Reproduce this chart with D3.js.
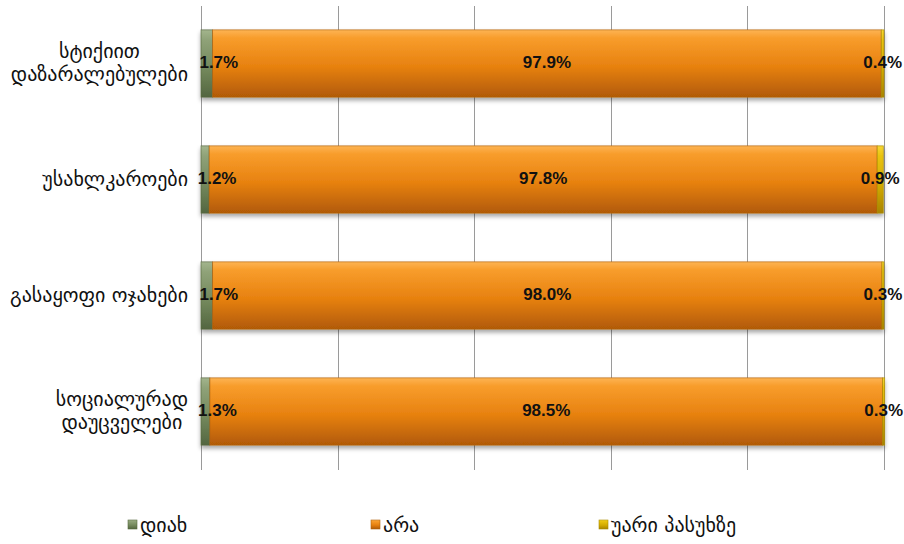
<!DOCTYPE html>
<html>
<head>
<meta charset="utf-8">
<script src="https://cdn.jsdelivr.net/npm/d3@7"></script>
<style>
  html, body { margin: 0; padding: 0; background: #fff; }
  svg { display: block; }
</style>
</head>
<body>
<svg id="chart" width="904" height="544"></svg>
<script>
// ---- data ----
const categories = [
  ["სტიქიით", "დაზარალებულები"],
  ["უსახლკაროები"],
  ["გასაყოფი ოჯახები"],
  ["სოციალურად", "დაუცველები"]
];
const seriesNames = ["დიახ", "არა", "უარი პასუხზე"];
const yesValues = [1.7, 1.2, 1.7, 1.3];
const noValues = [97.9, 97.8, 98.0, 98.5];
const refusedValues = [0.4, 0.9, 0.3, 0.3];
const xTicks = [0, 20, 40, 60, 80, 100];

(function () {
// ---- layout ----
const svg = d3.select("#chart");
const mLeft = 201, mRight = 884, mTop = 5.5, mBottom = 469.5;
const catKeys = categories.map((c, i) => "c" + i);
const rows = catKeys.map((k, i) => ({
  key: k, label: categories[i],
  v0: yesValues[i], v1: noValues[i], v2: refusedValues[i]
}));

const x = d3.scaleLinear().domain([0, 100]).range([mLeft, mRight]);
const y = d3.scaleBand().domain(catKeys).range([mTop, mBottom]).paddingInner(0.42).paddingOuter(0.21);

const stacked = d3.stack().keys(["v0", "v1", "v2"])(rows);

const font = "'DejaVu Sans', 'Noto Sans', sans-serif";
const gradients = [
  { id: "gYes", stops: [["0%", "#a3b58d"], ["15%", "#8fa278"], ["60%", "#72875b"], ["100%", "#536640"]], stroke: "#56693f" },
  { id: "gNo", stops: [["0%", "#fdb454"], ["12%", "#f89d2c"], ["55%", "#e7810f"], ["100%", "#b15a06"]], stroke: "#b0610c" },
  { id: "gRef", stops: [["0%", "#f7d733"], ["15%", "#e9c30f"], ["60%", "#d1a900"], ["100%", "#a88400"]], stroke: "#a88a00" }
];

const defs = svg.append("defs");
gradients.forEach(g => {
  const lg = defs.append("linearGradient").attr("id", g.id)
    .attr("x1", 0).attr("y1", 0).attr("x2", 0).attr("y2", 1);
  g.stops.forEach(s => lg.append("stop").attr("offset", s[0]).attr("stop-color", s[1]));
});
const f = defs.append("filter").attr("id", "shadow")
  .attr("x", "-5%").attr("y", "-20%").attr("width", "110%").attr("height", "150%");
f.append("feDropShadow").attr("dx", 0).attr("dy", 3).attr("stdDeviation", 2.2)
  .attr("flood-color", "#000").attr("flood-opacity", 0.35);

// gridlines
svg.append("g").selectAll("line").data(xTicks).join("line")
  .attr("x1", d => Math.round(x(d)) + 0.5).attr("x2", d => Math.round(x(d)) + 0.5)
  .attr("y1", 6).attr("y2", 470)
  .attr("stroke", "#9a9a9a").attr("stroke-width", 1);

// bars
const barG = svg.append("g").attr("filter", "url(#shadow)");
stacked.forEach((s, si) => {
  barG.append("g").selectAll("rect").data(s).join("rect")
    .attr("x", d => x(d[0]))
    .attr("y", d => y(d.data.key))
    .attr("width", d => Math.max(0, x(d[1]) - x(d[0])))
    .attr("height", y.bandwidth())
    .attr("fill", `url(#${gradients[si].id})`)
    .attr("stroke", gradients[si].stroke)
    .attr("stroke-width", 0.8)
    .attr("stroke-opacity", 0.8);
});

// data labels
const labelDx = [12, 0, 0];
stacked.forEach((s, si) => {
  svg.append("g").selectAll("text").data(s).join("text")
    .attr("x", d => (x(d[0]) + x(d[1])) / 2 + labelDx[si])
    .attr("y", d => y(d.data.key) + y.bandwidth() / 2 - 2)
    .attr("dy", "0.36em")
    .attr("text-anchor", "middle")
    .attr("font-family", "'Liberation Sans', Arial, sans-serif")
    .attr("font-size", 17)
    .attr("font-weight", "bold")
    .attr("fill", "#111")
    .text(d => (d[1] - d[0]).toFixed(1) + "%");
});

// category labels (block right-aligned, lines centered within block)
const catG = svg.append("g");
rows.forEach(r => {
  const cy = y(r.key) + y.bandwidth() / 2;
  const n = r.label.length;
  const lh = 23;
  const g = catG.append("g");
  const texts = r.label.map((line, li) => g.append("text")
    .attr("y", cy + (li - (n - 1) / 2) * lh - 1)
    .attr("dy", "0.35em")
    .attr("text-anchor", "middle")
    .attr("font-family", font)
    .attr("font-size", 20)
    .attr("fill", "#111")
    .text(line));
  const maxW = d3.max(texts, t => t.node().getComputedTextLength());
  texts.forEach(t => t.attr("x", 188 - maxW / 2));
});

// legend
const legendX = [128, 371, 599];
const lg = svg.append("g");
seriesNames.forEach((name, i) => {
  lg.append("rect").attr("x", legendX[i]).attr("y", 520).attr("width", 9).attr("height", 9)
    .attr("fill", `url(#${gradients[i].id})`).attr("stroke", gradients[i].stroke).attr("stroke-width", 0.6);
  lg.append("text").attr("x", legendX[i] + 12).attr("y", 525).attr("dy", "0.35em")
    .attr("font-family", font).attr("font-size", 20).attr("fill", "#111").text(name);
});
})();
</script>
</body>
</html>
